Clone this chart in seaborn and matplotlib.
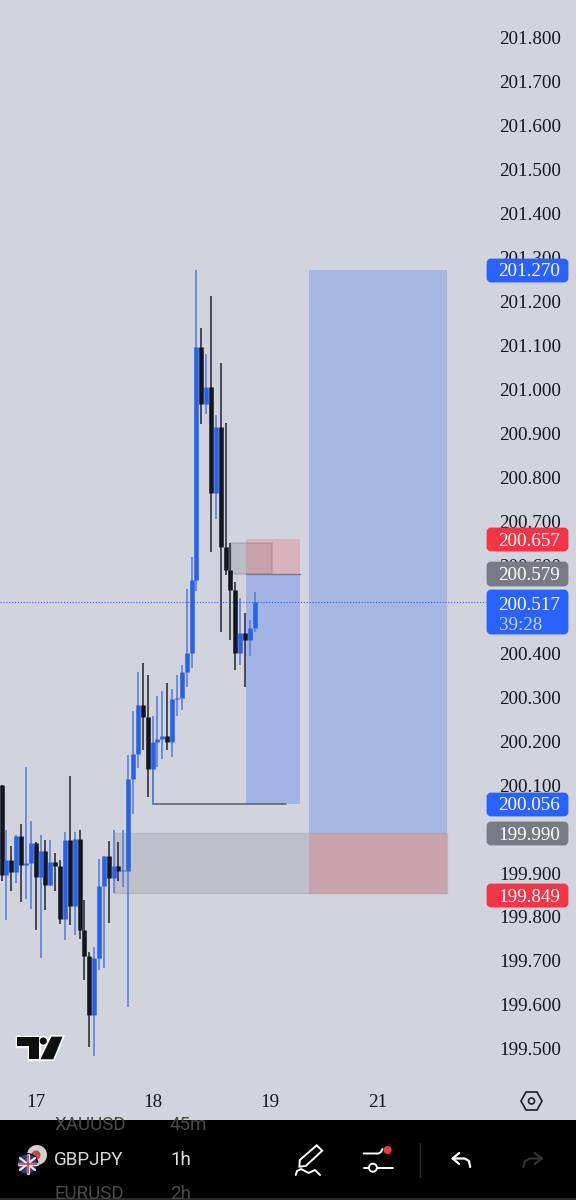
import matplotlib
matplotlib.use("Agg")
import matplotlib.pyplot as plt
from matplotlib.patches import Rectangle, FancyBboxPatch, Polygon, Circle
import seaborn as sns
import pandas as pd

# GBPJPY 1h candles
highs = [200.101, 199.998, 199.962, 199.987, 200.012, 200.142, 200.019, 199.970, 199.987, 199.976,
         199.976, 199.945, 199.930, 199.993, 200.121, 199.993, 199.997, 199.838, 199.720, 199.732,
         199.932, 199.938, 199.973, 199.998, 199.971, 199.998, 200.169, 200.269, 200.358, 200.377,
         200.350, 200.257, 200.303, 200.313, 200.333, 200.318, 200.351, 200.373, 200.545, 200.618,
         201.270, 201.139, 201.080, 201.212, 200.941, 201.060, 200.923, 200.651, 200.562, 200.526,
         200.491, 200.476, 200.539]
opens = [200.099, 199.896, 199.930, 199.902, 199.985, 199.919, 199.923, 199.968, 199.891, 199.949,
         199.873, 199.924, 199.916, 199.796, 199.974, 199.826, 199.977, 199.771, 199.712, 199.577,
         199.707, 199.871, 199.938, 199.889, 199.917, 199.905, 199.905, 200.113, 200.170, 200.281,
         200.254, 200.136, 200.197, 200.204, 200.212, 200.199, 200.295, 200.299, 200.356, 200.400,
         200.566, 201.096, 200.966, 201.005, 200.764, 200.914, 200.641, 200.589, 200.544, 200.401,
         200.446, 200.430, 200.457]
closes = [199.896, 199.930, 199.902, 199.985, 199.919, 199.923, 199.968, 199.891, 199.949, 199.873,
          199.924, 199.915, 199.796, 199.974, 199.826, 199.977, 199.771, 199.712, 199.577, 199.707,
          199.871, 199.938, 199.889, 199.917, 199.905, 199.907, 200.113, 200.170, 200.281, 200.254,
          200.136, 200.198, 200.204, 200.212, 200.199, 200.295, 200.299, 200.356, 200.400, 200.566,
          201.096, 200.966, 201.005, 200.764, 200.914, 200.641, 200.589, 200.544, 200.401, 200.446,
          200.430, 200.457, 200.517]
lows = [199.881, 199.794, 199.860, 199.877, 199.834, 199.841, 199.818, 199.771, 199.707, 199.816,
        199.870, 199.860, 199.785, 199.748, 199.781, 199.760, 199.751, 199.656, 199.504, 199.483,
        199.679, 199.684, 199.786, 199.854, 199.882, 199.868, 199.595, 200.035, 200.138, 200.179,
        200.073, 200.055, 200.142, 200.160, 200.179, 200.163, 200.256, 200.271, 200.324, 200.366,
        200.541, 200.921, 200.944, 200.630, 200.705, 200.448, 200.578, 200.430, 200.362, 200.373,
        200.323, 200.394, 200.448]

price_ticks = [199.5, 199.6, 199.7, 199.8, 199.9, 200.0, 200.1, 200.2, 200.3, 200.4, 200.5, 200.6,
               200.7, 200.8, 200.9, 201.0, 201.1, 201.2, 201.3, 201.4, 201.5, 201.6, 201.7, 201.8]
day_ticks = [7, 31, 55, 77.3]
day_labels = ["17", "18", "19", "21"]
last_price = 200.517

BG = "#d1d4dc"
BLUE = "#2962e8"
BLACK = "#131722"
BLUE_WICK = "#5c80de"
BLACK_WICK = "#30333b"

rows = []
for i in range(len(highs)):
    d = "up" if closes[i] >= opens[i] else "down"
    rows.append({"i": i, "d": d, "hi": highs[i], "lo": lows[i], "o": opens[i], "c": closes[i]})
df = pd.DataFrame(rows)
wicks = df.melt(id_vars=["i", "d"], value_vars=["hi", "lo"], value_name="price")
bodies = df.melt(id_vars=["i", "d"], value_vars=["o", "c"], value_name="price")

sns.set_style("white")
plt.rcParams['font.family'] = ['Liberation Serif', 'DejaVu Serif']

fig = plt.figure(figsize=(5.76, 12), dpi=100, facecolor=BG)
ax = fig.add_axes([0, 80 / 1200, 1, 1120 / 1200], facecolor=BG)

# position zones
ax.add_patch(Rectangle((23.1, 199.854), 68.4, 0.136, fc="#787b86", ec="#787b86", alpha=0.22, lw=1, zorder=1))
ax.add_patch(Rectangle((63.1, 199.852), 28.4, 0.138, fc="#f23645", ec="none", alpha=0.2, zorder=1))
ax.add_patch(Rectangle((63.1, 199.990), 28.4, 1.280, fc="#2962ff", ec="none", alpha=0.25, zorder=1))
ax.add_patch(Rectangle((47.2, 200.579), 8.3, 0.072, fc="#787b86", ec="#787b86", alpha=0.25, lw=1.5, zorder=1))
ax.add_patch(Rectangle((50.2, 200.579), 11.1, 0.080, fc="#f23645", ec="none", alpha=0.2, zorder=1))
ax.add_patch(Rectangle((50.2, 200.056), 11.1, 0.523, fc="#2962ff", ec="none", alpha=0.28, zorder=1))
ax.plot([50.2, 61.3], [200.579, 200.579], color="#787b86", lw=1, zorder=1)
ax.plot([31.15, 31.15, 58.3], [200.140, 200.056, 200.056], color="#5a5d68", lw=1.1, zorder=1.5)

palette = {"up": BLUE, "down": BLACK}
sns.lineplot(data=wicks, x="i", y="price", units="i", hue="d", estimator=None, ax=ax, legend=False,
             palette={"up": BLUE_WICK, "down": BLACK_WICK}, linewidth=1.2, solid_capstyle="butt", zorder=2)
sns.lineplot(data=bodies, x="i", y="price", units="i", hue="d", estimator=None, ax=ax, legend=False,
             palette=palette, linewidth=3.3, solid_capstyle="butt", zorder=3)

ax.axhline(last_price, xmin=0, xmax=486 / 576, color=BLUE, lw=0.8, ls=(0, (1, 1.6)), zorder=2)

ax.set_xlim(-0.3285, 117.95)
ax.set_ylim(199.3384, 201.885)
ax.set_xlabel("")
ax.set_ylabel("")
for s in ax.spines.values():
    s.set_visible(False)
ax.set_yticks(price_ticks)
ax.set_yticklabels([f"{v:.3f}" for v in price_ticks])
ax.set_xticks(day_ticks)
ax.set_xticklabels(day_labels)
ax.tick_params(axis="y", left=False, right=False, labelleft=False, labelright=True, length=0, pad=-55.4,
               labelsize=13.7, labelcolor=BLACK)
ax.tick_params(axis="x", bottom=False, length=0, pad=-18.5, labelsize=13.7, labelcolor=BLACK)

# overlay in screen pixels for price tags and the app toolbar
ui = fig.add_axes([0, 0, 1, 1], facecolor="none")
ui.set_xlim(0, 576)
ui.set_ylim(1200, 0)
ui.axis("off")

tag_texts = ["201.270", "200.657", "200.579", "200.517", "200.056", "199.990", "199.849"]
tag_colors = ["#2962ff", "#f23645", "#787b86", "#2962ff", "#2962ff", "#787b86", "#f23645"]
tag_tops = [258, 527, 561, 589, 792, 821, 883]
tag_bottoms = [283, 552, 587, 635, 817, 846, 908]
for txt, col, t, b in zip(tag_texts, tag_colors, tag_tops, tag_bottoms):
    ui.add_patch(FancyBboxPatch((488, t + 2), 79, b - t - 4, boxstyle="round,pad=0,rounding_size=3",
                                fc=col, ec=col, lw=2))
    yc = 605 if txt == "200.517" else (t + b) / 2 + 1.5
    ui.text(529, yc, txt, color="white", fontsize=13.7, ha="center", va="center")
ui.text(499, 625, "39:28", color="#c4d3ff", fontsize=13.7, ha="left", va="center")

# TradingView mark
logo_t = [(16.5, 1036.7), (38.6, 1036.7), (38.6, 1059.3), (28.7, 1059.3), (28.7, 1046), (16.5, 1046)]
logo_s = [(51.4, 1036.7), (62.5, 1036.7), (53.3, 1059.3), (40.4, 1059.3)]
for pts in (logo_t, logo_s):
    ui.add_patch(Polygon(pts, closed=True, fc="#0f0f0f", ec="white", lw=2.4, joinstyle="miter"))
ui.add_patch(Circle((43.3, 1041), 5, fc="white", ec="none"))
for pts in (logo_t, logo_s):
    ui.add_patch(Polygon(pts, closed=True, fc="#0f0f0f", ec="none"))
ui.add_patch(Circle((43.3, 1041), 3.6, fc="#0f0f0f", ec="none"))

# settings hexagon
ui.add_patch(Polygon([(521, 1101), (526, 1092), (537, 1092), (542, 1101), (537, 1110), (526, 1110)],
                     closed=True, fc="none", ec="#1b1e26", lw=1.2))
ui.add_patch(Circle((531.5, 1101), 3, fc="none", ec="#1b1e26", lw=1.2))

# toolbar
bar = Rectangle((0, 1120), 576, 80, fc="black", ec="none", zorder=1)
ui.add_patch(bar)
ui.plot([0, 576], [1198.5, 1198.5], color="#2a2a2a", lw=1.5, zorder=1.5)
ROBOTO = ['Roboto', 'DejaVu Sans']
for s, x, y, col in [("XAUUSD", 54, 1125, "#4a4a4a"), ("45m", 170, 1125, "#4a4a4a"),
                     ("GBPJPY", 54, 1160, "#d8d8d8"), ("1h", 170, 1160, "#e0e0e0"),
                     ("EURUSD", 54, 1194, "#4a4a4a"), ("2h", 170, 1194, "#4a4a4a")]:
    t = ui.text(x, y, s, color=col, fontsize=13.5, family=ROBOTO, ha="left", va="center", zorder=2)
    t.set_clip_path(Rectangle((0, 1121), 576, 77, transform=ui.transData))

# symbol badge
ui.add_patch(Circle((37, 1155), 10, fc="#cfcfcf", ec="none", zorder=2))
ui.add_patch(Circle((36, 1155), 4.5, fc="#c04848", ec="none", zorder=2.1))
ui.add_patch(Circle((27.5, 1164), 11, fc="black", ec="none", zorder=2.2))
ui.add_patch(Circle((27.5, 1164), 9.6, fc="#2b3a78", ec="none", zorder=2.3))
ui.plot([20, 35], [1158, 1170], color="#e8e8e8", lw=1.6, zorder=2.4)
ui.plot([20, 35], [1170, 1158], color="#e8e8e8", lw=1.6, zorder=2.4)
ui.plot([18.5, 36.5], [1164, 1164], color="#e8e8e8", lw=2.4, zorder=2.5)
ui.plot([27.5, 27.5], [1155, 1173], color="#e8e8e8", lw=2.4, zorder=2.5)
ui.plot([18.5, 36.5], [1164, 1164], color="#cc3344", lw=1.1, zorder=2.6)
ui.plot([27.5, 27.5], [1155, 1173], color="#cc3344", lw=1.1, zorder=2.6)

# pencil
ui.add_patch(Polygon([(316.7, 1145.3), (322.2, 1150.7), (305.7, 1166), (299.4, 1166.7), (299.8, 1160)],
                     closed=True, fc="none", ec="white", lw=1.4, zorder=2))
ui.plot([295.7, 297, 301, 308.6, 315, 320], [1175, 1171, 1169, 1173, 1170, 1175], color="white", lw=1.4, zorder=2)
# sliders
ui.plot([363.7, 378.4, 381, 382.5], [1153.5, 1153.5, 1152, 1149], color="white", lw=1.4, zorder=2)
ui.add_patch(Circle((387.6, 1150), 4, fc="#f23645", ec="none", zorder=2))
ui.plot([363.7, 368.5], [1167.7, 1167.7], color="white", lw=1.4, zorder=2)
ui.plot([377.3, 393], [1167.7, 1167.7], color="white", lw=1.4, zorder=2)
ui.add_patch(Circle((372.9, 1167.7), 4, fc="none", ec="white", lw=1.4, zorder=2))
ui.plot([420, 420], [1143, 1177], color="#2c2c2c", lw=1, zorder=2)
# undo and redo
ui.plot([459.2, 452.6, 459.2], [1153, 1158.5, 1164], color="white", lw=1.6, zorder=2)
ui.plot([452.6, 464.7, 469, 470.2], [1158.5, 1158.5, 1161, 1167], color="white", lw=1.6, zorder=2)
ui.plot([534.5, 541.9, 534.5], [1153, 1158.5, 1164], color="#333333", lw=1.6, zorder=2)
ui.plot([541.9, 530, 525, 523.5], [1158.5, 1158.5, 1161, 1167], color="#333333", lw=1.6, zorder=2)

fig.savefig("out.png", dpi=100, facecolor=BG)
